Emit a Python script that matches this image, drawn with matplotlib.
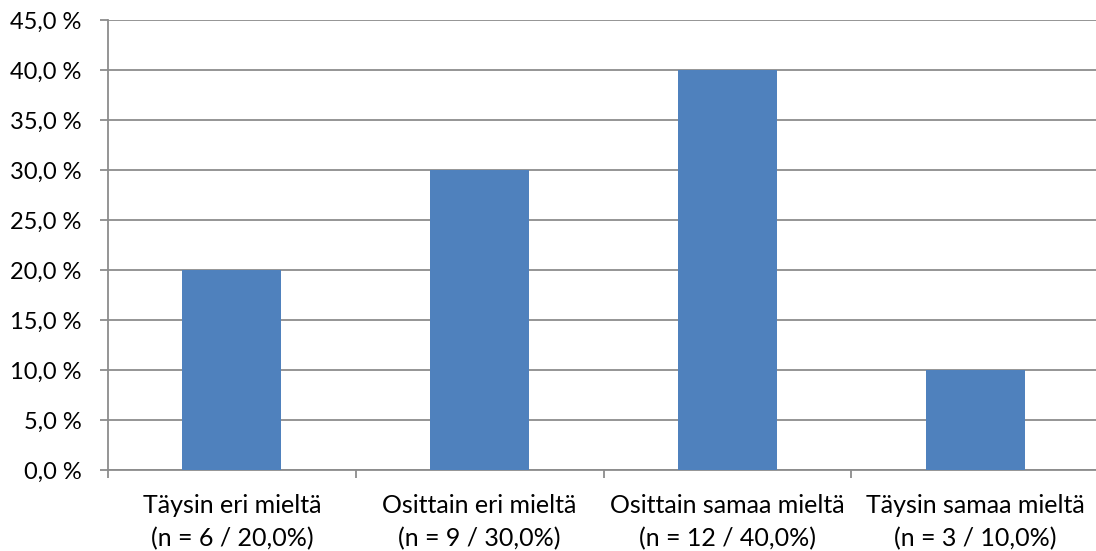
import matplotlib.pyplot as plt
from matplotlib.ticker import FuncFormatter, MultipleLocator

categories = ["Täysin eri mieltä", "Osittain eri mieltä", "Osittain samaa mieltä", "Täysin samaa mieltä"]
counts = [6, 9, 12, 3]
percents = [20.0, 30.0, 40.0, 10.0]

plt.rcParams['font.family'] = ['Lato', 'DejaVu Sans']

fig = plt.figure(figsize=(10.96, 5.51), dpi=100)
ax = fig.add_axes([108 / 1096, 1 - 470 / 551, (1099 - 108) / 1096, (470 - 20) / 551])

x = list(range(len(categories)))
ax.bar(x, percents, width=0.4, color="#4F81BD", zorder=3)

ax.set_xlim(-0.5, len(categories) - 0.5)
ax.set_ylim(0, 45)
ax.yaxis.set_major_locator(MultipleLocator(5))
ax.yaxis.set_major_formatter(FuncFormatter(lambda v, p: f"{v:.1f}\u2009\u2009%".replace(".", ",")))
ax.grid(axis="y", color="#8C8C8C", linewidth=1.3, zorder=0)

labels = [f"{c}\n(n = {n} / {p:.1f}%)".replace(".", ",") for c, n, p in zip(categories, counts, percents)]
ax.set_xticks(x)
ax.set_xticklabels(labels, fontsize=18, linespacing=1.55)
ax.set_xticks([i - 0.5 for i in range(len(categories) + 1)], minor=True)
ax.tick_params(axis="x", which="major", length=0, pad=17)
ax.tick_params(axis="x", which="minor", length=6, width=1.3, color="#8C8C8C")
ax.tick_params(axis="y", length=6, width=1.3, color="#8C8C8C", labelsize=17, pad=13)

for side in ("top", "right"):
    ax.spines[side].set_visible(False)
for side in ("left", "bottom"):
    ax.spines[side].set_color("#8C8C8C")
    ax.spines[side].set_linewidth(1.3)

fig.savefig("out.png", dpi=100)
